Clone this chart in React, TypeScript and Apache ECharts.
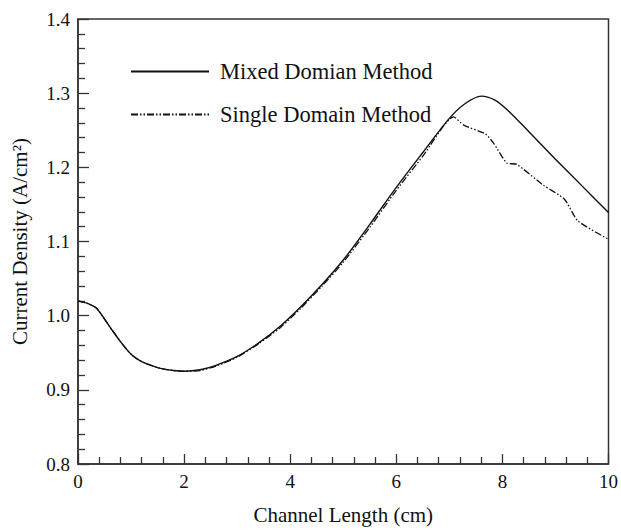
import React, { useEffect, useRef } from "react";
import * as echarts from "echarts";

const mixedX = [0, 0.2, 0.35, 0.6, 0.8, 1.0, 1.2, 1.5, 1.8, 2.0, 2.3, 2.6, 3.0, 3.4, 3.8, 4.2, 4.6, 5.0, 5.5, 6.0, 6.5, 7.0, 7.3, 7.6, 7.85, 8.1, 8.5, 9.0, 9.5, 10];
const mixedY = [1.020, 1.016, 1.010, 0.985, 0.965, 0.948, 0.938, 0.930, 0.926, 0.925, 0.927, 0.933, 0.945, 0.963, 0.985, 1.012, 1.042, 1.075, 1.123, 1.173, 1.220, 1.266, 1.286, 1.296, 1.291, 1.277, 1.248, 1.211, 1.175, 1.139];

const singleX = [0, 0.2, 0.35, 0.6, 0.8, 1.0, 1.2, 1.5, 1.8, 2.0, 2.3, 2.6, 3.0, 3.4, 3.8, 4.2, 4.6, 5.0, 5.5, 6.0, 6.5, 7.08, 7.27, 7.68, 7.83, 8.08, 8.27, 8.77, 9.17, 9.42, 10];
const singleY = [1.020, 1.016, 1.010, 0.985, 0.965, 0.948, 0.938, 0.930, 0.926, 0.925, 0.926, 0.932, 0.944, 0.962, 0.983, 1.010, 1.040, 1.072, 1.119, 1.169, 1.215, 1.268, 1.257, 1.245, 1.233, 1.206, 1.204, 1.176, 1.157, 1.128, 1.103];

const seriesNames = ["Mixed Domian Method", "Single Domain Method"];
const xTitle = "Channel Length (cm)";
const yTitle = "Current Density (A/cm\u00B2)";

const FONT = "'Liberation Serif', 'Times New Roman', serif";

export default function App() {
  const ref = useRef<HTMLDivElement>(null);
  useEffect(() => {
    if (!ref.current) return;
    const chart = echarts.init(ref.current, undefined, { renderer: "svg" });
    const axisColor = "#333";
    chart.setOption({
      animation: false,
      backgroundColor: "#fff",
      grid: {
        left: 78,
        right: 9,
        top: 19,
        bottom: 53,
        show: true,
        borderColor: axisColor,
        borderWidth: 1.5,
        backgroundColor: "transparent",
      },
      legend: {
        orient: "vertical",
        left: 125,
        top: 55,
        itemWidth: 78,
        itemHeight: 14,
        itemGap: 20,
        itemStyle: { opacity: 0 },
        textStyle: { fontFamily: FONT, fontSize: 22.5, color: "#111", padding: [0, 0, 0, 6] },
        data: seriesNames,
      },
      xAxis: {
        type: "value",
        min: 0,
        max: 10,
        interval: 2,
        name: xTitle,
        nameLocation: "middle",
        nameGap: 40,
        nameTextStyle: { fontFamily: FONT, fontSize: 21, color: "#111" },
        axisLine: { show: true, lineStyle: { color: axisColor, width: 1.5 } },
        axisTick: { show: true, inside: true, length: 10, lineStyle: { color: axisColor, width: 1.3 } },
        minorTick: { show: true, splitNumber: 5, length: 7, lineStyle: { color: axisColor, width: 1.3 } },
        splitLine: { show: false },
        axisLabel: { fontFamily: FONT, fontSize: 19, color: "#111", margin: 8, formatter: (v: number) => String(v) },
      },
      yAxis: {
        type: "value",
        min: 0.8,
        max: 1.4,
        interval: 0.1,
        name: yTitle,
        nameLocation: "middle",
        nameGap: 48,
        nameTextStyle: { fontFamily: FONT, fontSize: 21, color: "#111" },
        axisLine: { show: true, lineStyle: { color: axisColor, width: 1.5 } },
        axisTick: { show: true, inside: true, length: 11, lineStyle: { color: axisColor, width: 1.3 } },
        minorTick: { show: true, splitNumber: 5, length: 7, lineStyle: { color: axisColor, width: 1.3 } },
        splitLine: { show: false },
        axisLabel: { fontFamily: FONT, fontSize: 19, color: "#111", margin: 8, formatter: (v: number) => v.toFixed(1) },
      },
      series: [
        {
          name: seriesNames[0],
          type: "line",
          data: mixedX.map((x, i) => [x, mixedY[i]]),
          showSymbol: false,
          symbol: "none",
          smooth: 0.3,
          lineStyle: { color: "#111", width: 1.4, type: "solid" },
          itemStyle: { color: "#111" },
        },
        {
          name: seriesNames[1],
          type: "line",
          data: singleX.map((x, i) => [x, singleY[i]]),
          showSymbol: false,
          symbol: "none",
          smooth: 0.2,
          lineStyle: { color: "#111", width: 1.3, type: [7, 2, 1.5, 2, 1.5, 2] },
          itemStyle: { color: "#111" },
        },
      ],
    });
    return () => chart.dispose();
  }, []);
  return <div ref={ref} style={{ width: 621, height: 530, position: "absolute", left: 0, top: 0 }} />;
}
